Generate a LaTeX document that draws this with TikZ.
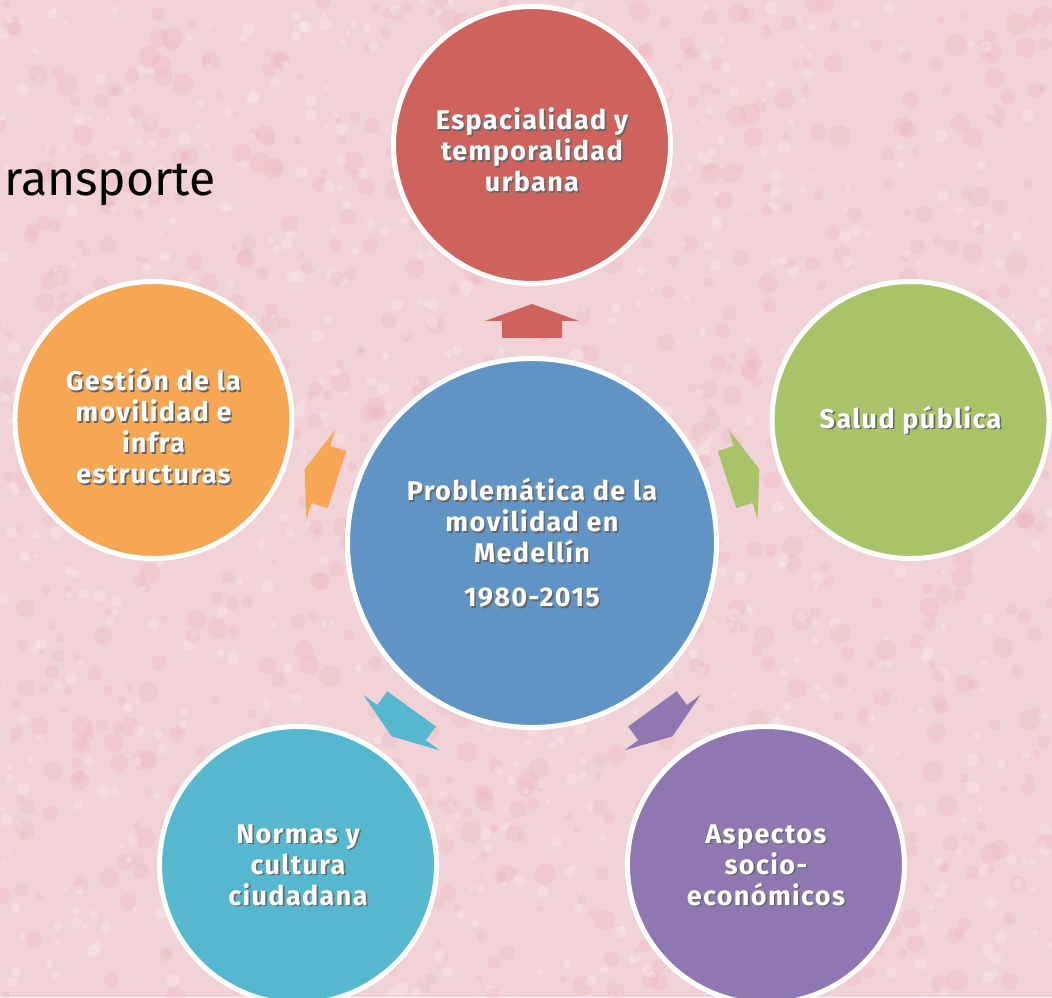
\documentclass[tikz,border=0pt]{standalone}
\usepackage{fontspec}
\setmainfont{Fira Sans}
\usetikzlibrary{positioning}

\definecolor{bgpink}{RGB}{241,210,214}
\definecolor{spotpink}{RGB}{236,168,178}
\definecolor{centerblue}{RGB}{96,148,197}
\definecolor{topicred}{RGB}{205,99,92}
\definecolor{topicgreen}{RGB}{169,196,104}
\definecolor{topicorange}{RGB}{247,166,84}
\definecolor{topiccyan}{RGB}{86,184,206}
\definecolor{topicpurple}{RGB}{143,120,177}

\tikzset{
	topic/.style={circle, draw=white, line width=5pt, minimum size=277pt, inner sep=0pt},
	topictext/.style={text=white, align=center,
		font=\bfseries\fontsize{27}{31}\selectfont\addfontfeatures{LetterSpace=5}},
	topicshadow/.style={topictext, text=black!60, xshift=1.6pt, yshift=-1.6pt},
}

% white text with a soft drop shadow
\newcommand\shadowlabel[3]{%
	\node[topicshadow] (#1-sh) at (#2) {#3};
	\node[topictext] (#1-txt) at (#2) {#3};
}

\begin{document}
\begin{tikzpicture}[x=1pt, y=1pt]
	\useasboundingbox (0,0) rectangle (1052,997);
	\fill[bgpink] (0,0) rectangle (1052,997);
	% speckled paper
	\pgfmathsetseed{11}
	\foreach \i in {1,...,900}{
		\pgfmathsetmacro\px{rnd*1052}
		\pgfmathsetmacro\py{rnd*997}
		\pgfmathsetmacro\pr{3+rnd*8}
		\fill[spotpink, opacity=0.2] (\px,\py) circle (\pr);
		\pgfmathsetmacro\qx{rnd*1052}
		\pgfmathsetmacro\qy{rnd*997}
		\fill[white, opacity=0.22] (\qx,\qy) circle (\pr*0.6);
	}

	\node[anchor=base west, inner sep=0pt, font=\fontsize{48}{52}\selectfont] (title) at (4,801) {ransporte};

	\node[topic, fill=centerblue, minimum size=369pt] (ctr) at (532,454) {};

	\foreach \ang/\nm/\col in {90/espacio/topicred, 18/salud/topicgreen, 162/gestion/topicorange,
			-126/normas/topiccyan, -54/aspectos/topicpurple}{
		\fill[\col, shift={(ctr.center)}, rotate=\ang]
			(205,-30) -- (222,-30) -- (222,-47) -- (239,0) -- (222,47) -- (222,30) -- (205,30) -- cycle;
		\node[topic, fill=\col] (\nm) at ([shift={(\ang:398)}]ctr.center) {};
	}

	\shadowlabel{ctr}{ctr.center}{Problemática de la\\movilidad en\\Medellín\\[13pt]1980-2015}
	\shadowlabel{espacio}{[yshift=-5pt]espacio.center}{Espacialidad y\\temporalidad\\urbana}
	\shadowlabel{salud}{salud.center}{Salud pública}
	\shadowlabel{gestion}{[yshift=-6pt]gestion.center}{Gestión de la\\movilidad e\\infra\\estructuras}
	\shadowlabel{normas}{normas.center}{Normas y\\cultura\\ciudadana}
	\shadowlabel{aspectos}{aspectos.center}{Aspectos\\socio-\\económicos}
\end{tikzpicture}
\end{document}
